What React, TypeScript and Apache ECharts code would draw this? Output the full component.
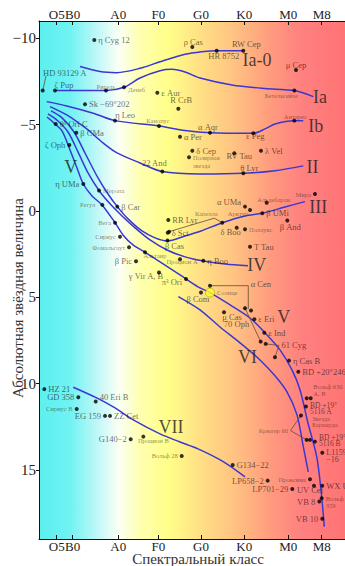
import React, { useEffect, useRef } from 'react';
import * as echarts from 'echarts';

type Star = [string, number, number];
type Pt = [number, number];

// spectral class axis (linear "spectral position": O=0, B=1, A=2, F=3, G=4, K=5, M=6)
const spectralTicks = ['O5', 'B0', 'A0', 'F0', 'G0', 'K0', 'M0', 'M8'];
const spectralTickPos = [0.574, 0.944, 2.0, 2.926, 3.914, 4.917, 5.935, 6.708];
const spectralMin = 0.164;
const spectralMax = 7.248;
const magnitudeTicks = [-10, -5, 0, 5, 10, 15];
const magnitudeMin = -11;
const magnitudeMax = 19;

// stars: [name, spectral position, absolute magnitude]
const supergiantStars: Star[] = [
  ['η Cyg 12', 1.444, -9.9],
  ['HD 93129 A', 0.25, -6.97],
  ['ζ Pup', 0.535, -6.97],
  ['Ригель', 1.715, -6.97],
  ['Денеб', 2.132, -7.16],
  ['ε Aur', 2.903, -6.85],
  ['Sk −69°202', 1.229, -6.18],
  ['η Leo', 1.924, -5.23],
  ['Канопус', 2.942, -4.92],
  ['R CrB', 3.389, -5.92],
  ['ρ Cas', 3.713, -9.5],
  ['HR 8752', 4.278, -9.28],
  ['RW Cep', 4.894, -9.28],
  ['μ Cep', 6.113, -8.16],
  ['Бетельгейзе', 6.074, -6.97],
  ['Антарес', 6.074, -5.23],
  ['α Aqr', 4.123, -4.53],
  ['ε Peg', 5.125, -4.5],
  ['α Per', 3.428, -4.3],
  ['δ Cep', 3.713, -3.49],
  ['Полярная\nзвезда', 3.637, -3.11],
  ['RV Tau', 4.685, -3.34],
  ['λ Vel', 5.303, -3.49],
  ['θ Lyr', 4.894, -2.18],
  ['22 And', 3.019, -2.28],
];

const giantStars: Star[] = [
  ['Мира', 6.553, -0.98],
  ['Альдебаран', 5.435, -0.48],
  ['α UMa', 4.933, -0.25],
  ['Арктур', 5.049, -0.06],
  ['β UMi', 5.333, 0.13],
  ['β And', 5.912, 0.56],
  ['δ Boo', 4.741, 0.97],
  ['Поллукс', 4.933, 1.06],
  ['T Tau', 5.049, 2.07],
  ['RR Lyr', 3.157, 0.52],
  ['δ Sct', 3.144, 1.26],
  ['β Cas', 3.139, 1.71],
  ['η Boo', 3.968, 2.88],
  ['Процион А', 3.428, 2.8],
  ['β Car', 1.977, -0.25],
  ['Меропа', 1.553, -1.18],
];

const mainSequenceStars: Star[] = [
  ['θ¹ Ori C', 0.551, -5.04],
  ['β CMa', 1.028, -4.53],
  ['ζ Oph', 0.866, -3.82],
  ['η UMa', 1.19, -1.56],
  ['Регул', 1.63, -0.35],
  ['Вега', 1.924, 0.68],
  ['Сириус', 2.039, 1.49],
  ['Фомальгаут', 2.248, 2.1],
  ['Альтаир', 2.618, 2.39],
  ['β Pic', 2.41, 2.91],
  ['γ Vir A, B', 2.942, 3.57],
  ['π³ Ori', 3.567, 3.94],
  ['β Com', 3.914, 4.73],
  ['μ Cas', 4.447, 5.87],
  ['ε Eri', 5.148, 6.27],
  ['ε Ind', 5.38, 7.05],
  ['η Cas B', 5.951, 8.67],
  ['BD +20°2465', 6.167, 9.31],
  ['BD +19°\n5116 A', 6.345, 11.33],
  ['Звезда\nБарнарда', 6.438, 13.26],
  ['BD +19°\n5116 B', 6.553, 13.36],
  ['L1159\n−16', 6.722, 14.0],
  ['Проксима', 6.438, 15.54],
  ['WX UMa', 6.722, 15.92],
  ['UV Cet', 6.53, 15.92],
  ['Вольф\n359', 6.708, 16.64],
  ['VB 8', 6.653, 16.83],
  ['VB 10', 6.722, 17.83],
  ['G134−22', 4.648, 14.71],
  ['LP658−2', 5.458, 15.62],
  ['LP701−29', 6.028, 16.11],
];

const whiteDwarfStars: Star[] = [
  ['HZ 21', 0.287, 10.32],
  ['GD 358', 1.074, 10.79],
  ['40 Eri B', 1.477, 11.04],
  ['Сириус B', 1.037, 11.47],
  ['EG 159', 1.692, 11.87],
  ['ZZ Cet', 1.808, 11.87],
  ['G140−2', 2.287, 13.22],
  ['Процион B', 2.579, 13.07],
  ['Вольф 28', 3.468, 14.19],
];

const sun: Star = ['Солнце', 4.123, 4.73];

// multiple systems (unlabelled dots)
const alphaCenStars: Pt[] = [[4.123, 4.33], [5.072, 5.77]];
const oph70Stars: Pt[] = [[4.933, 5.63], [5.296, 7.57]];
const cyg61Stars: Pt[] = [[5.412, 7.7], [5.627, 8.47]];
const capellaStars: Pt[] = [[3.176, 1.2], [4.407, 0.68]];
const kruger60Stars: Pt[] = [[6.229, 11.85], [6.361, 13.26]];
const wolf630Stars: Pt[] = [[6.361, 10.85], [6.454, 10.85]];

// bracket / leader lines
const hd93129Leader: Pt[] = [[0.25, -6.97], [0.326, -7.82]];
const capellaBracket: Pt[] = [[3.176, 1.2], [4.222, 0.42], [4.407, 0.68]];
const alphaCenBracket: Pt[] = [[4.123, 4.33], [5.009, 4.33], [5.009, 5.67]];
const oph70Link: Pt[] = [[4.933, 5.63], [5.296, 7.57]];
const cyg61Bracket: Pt[] = [[5.412, 7.7], [5.72, 7.79], [5.627, 8.47]];
const kruger60Bracket: Pt[] = [[6.229, 11.85], [5.986, 12.72], [6.361, 13.26]];

// label anchors for the systems: [text, spectral, magnitude]
const systemLabels: Star[] = [
  ['Капелла', 4.222, 0.42],
  ['α Cen', 5.009, 4.33],
  ['70 Oph', 4.736, 6.54],
  ['61 Cyg', 5.72, 7.79],
  ['Крюгер 60', 5.986, 12.72],
  ['Вольф 630\nA, B', 6.454, 10.85],
];

// luminosity class curves
const classIa0: Pt[] = [[1.113, -8.36], [1.576, -8.07], [1.963, -8.01], [2.502, -8.26], [2.965, -8.64], [3.544, -9.07], [3.931, -9.22], [4.278, -9.28], [4.894, -9.28]];
const classIa: Pt[] = [[0.535, -6.97], [1.715, -6.97], [2.132, -7.16], [2.502, -7.7], [2.965, -8.12], [3.243, -8.2], [3.544, -8.05], [3.891, -7.7], [4.632, -7.3], [5.396, -7.09], [6.074, -6.97], [6.514, -6.62]];
const classIb: Pt[] = [[0.343, -6.33], [0.806, -6.08], [1.421, -5.66], [1.924, -5.23], [2.942, -4.92], [3.544, -4.66], [4.123, -4.53], [5.125, -4.5], [5.396, -4.75], [5.627, -5.04], [6.074, -5.23], [6.282, -5.23]];
const classII: Pt[] = [[0.419, -6.04], [0.806, -5.56], [1.113, -5.04], [1.299, -4.69], [1.646, -3.94], [1.97, -3.36], [2.502, -2.78], [3.019, -2.28], [3.891, -2.14], [4.894, -2.18], [5.627, -2.33], [6.282, -2.61]];
const classIII: Pt[] = [[0.442, -5.79], [0.697, -5.39], [0.975, -4.57], [1.252, -3.24], [1.53, -1.91], [1.762, -0.98], [1.977, -0.25], [2.225, 0.46], [2.549, 1.16], [2.85, 1.56], [3.127, 1.74], [3.544, 1.45], [3.914, 1.16], [4.407, 0.68], [4.933, 0.29], [5.333, 0.13], [5.859, -0.23], [6.322, -0.54]];
const classIV: Pt[] = [[0.373, -5.62], [0.604, -5.21], [0.836, -4.57], [1.067, -3.42], [1.299, -2.2], [1.553, -1.18], [1.808, -0.41], [2.086, 0.29], [2.387, 0.98], [2.734, 1.68], [3.127, 2.26], [3.544, 2.66], [3.968, 2.9], [4.47, 3.07], [5.002, 3.18]];
const classV: Pt[] = [[0.35, -5.44], [0.535, -5.04], [0.697, -4.63], [0.882, -3.53], [1.044, -2.49], [1.19, -1.56], [1.391, -0.87], [1.623, -0.35], [1.924, 0.68], [2.109, 1.39], [2.34, 1.97], [2.618, 2.39], [2.965, 2.95], [3.428, 3.71], [3.845, 4.4], [4.123, 4.73], [4.586, 5.44], [5.049, 6.2], [5.396, 7.06], [5.743, 8.05], [6.021, 9.21], [6.206, 10.36], [6.391, 12.28], [6.593, 14.23], [6.692, 16.16], [6.769, 18.28]];
const classVI: Pt[] = [[3.389, 4.96], [3.891, 5.73], [4.354, 6.72], [4.817, 7.64], [5.28, 8.63], [5.627, 9.55], [5.905, 10.48], [6.137, 11.81], [6.275, 13.55], [6.398, 15.11]];
const classVII: Pt[] = [[0.958, 10.21], [1.5, 10.83], [1.924, 11.41], [2.347, 12.1], [2.965, 12.91], [3.428, 13.38], [3.845, 13.78], [4.4, 14.48], [4.933, 15.4]];

// class name labels: [text, spectral, magnitude]
const classLabels: Star[] = [
  ['Ia-0', 5.211, -8.74],
  ['Ia', 6.669, -6.62],
  ['Ib', 6.572, -4.92],
  ['II', 6.495, -2.53],
  ['III', 6.63, -0.21],
  ['IV', 5.204, 3.13],
  ['V', 0.9, -2.57],
  ['V', 5.829, 6.16],
  ['VI', 4.991, 8.44],
  ['VII', 3.22, 12.49],
];

// label placement (style): [position, dx, dy, lineHeight?, fontSize?]
type Placement = [string, number, number, number?, number?];
const labelPlacement: Record<string, Placement> = {
  'HD 93129 A': ['top', 22, -9],
  'ζ Pup': ['top', 9, 3],
  'Ригель': ['top', 0, 3],
  'Денеб': ['right', 0, 2],
  'η Leo': ['top', 10, 3],
  'Канопус': ['top', -1, 2],
  'R CrB': ['top', 3, 0],
  'ρ Cas': ['top', 1, 3],
  'HR 8752': ['bottom', 7, -3],
  'RW Cep': ['top', 3, 2],
  'μ Cep': ['top', 0, 3],
  'Бетельгейзе': ['bottom', -13, -3],
  'Антарес': ['top', 1, 3],
  'α Aqr': ['top', -2, 3],
  'ε Peg': ['bottom', 2, -5],
  'Полярная\nзвезда': ['right', 0, 4.5, 8],
  'RV Tau': ['bottom', 5, -6],
  'θ Lyr': ['top', 6, 3],
  '22 And': ['top', -8, 0],
  'Мира': ['left', 0, 0],
  'Альдебаран': ['top', 7, 4],
  'α UMa': ['left', 0, -5],
  'Арктур': ['bottom', -12, -4],
  'β And': ['bottom', 3, -2],
  'δ Boo': ['bottom', -6, -4],
  'β Cas': ['bottom', 7, -3],
  'Процион А': ['bottom', 2, -5],
  'ζ Oph': ['left', 0, 0],
  'η UMa': ['left', 0, 0],
  'Регул': ['left', -3, 0],
  'Вега': ['left', 0, 0],
  'Сириус': ['left', 0, 0],
  'Фомальгаут': ['left', 0, 0],
  'Альтаир': ['bottom', 10, -4],
  'β Pic': ['left', 0, 0],
  'γ Vir A, B': ['bottom', -13, -5],
  'π³ Ori': ['left', 0, 3],
  'β Com': ['bottom', -3, -2],
  'μ Cas': ['bottom', 8, -4],
  'BD +19°\n5116 A': ['right', 0, 2, 6, 7.5],
  'BD +19°\n5116 B': ['right', 0, -1, 6, 7.5],
  'Звезда\nБарнарда': ['right', -2, -18.5, 5.5],
  'L1159\n−16': ['right', 0, 3.5, 7, 8],
  'Проксима': ['left', 0, 0],
  'UV Cet': ['bottom', -4, -4],
  'LP658−2': ['left', 0, 0],
  'LP701−29': ['left', 0, 0],
  'Вольф\n359': ['right', 0, 3.4, 6.7],
  'VB 8': ['left', 0, 0],
  'VB 10': ['left', 0, 0],
  'Вольф 28': ['left', 0, 0],
  'Процион B': ['bottom', 10, -4],
  'G140−2': ['left', 0, 0],
  'EG 159': ['left', 0, 0],
  'Сириус B': ['left', 0, 0],
  '40 Eri B': ['right', 0, -5],
  'GD 358': ['left', 0, 0],
  'Капелла': ['top', -8, 1],
  'α Cen': ['right', 0, -2],
  '70 Oph': ['inside', 0, 0],
  '61 Cyg': ['right', 0, 0],
  'Крюгер 60': ['left', 0, 0],
  'Вольф 630\nA, B': ['right', 0, -8, 7],
};

const SERIF = '"Liberation Serif", "Times New Roman", serif';
const LINE_COLOR = '#3a37d2';
const BRACKET_COLOR = '#5e4e34';

function labelFor(name: string) {
  const pl = labelPlacement[name] || ['right', 0, 0];
  const ru = /[А-Яа-яЁё]/.test(name);
  const fs = pl[4] ?? (ru ? 6.5 : 8.5);
  return {
    show: true,
    position: pl[0],
    offset: [pl[1], pl[2]],
    distance: 2,
    formatter: '{b}',
    fontFamily: SERIF,
    fontSize: fs,
    lineHeight: pl[3] ?? (ru ? 7 : 8.5),
    color: ru ? 'rgba(50,30,10,0.68)' : 'rgba(10,10,10,0.78)',
  };
}

function starItem(s: Star) {
  return { name: s[0], value: [s[1], s[2]], label: labelFor(s[0]) };
}

function curve(name: string, data: Pt[]) {
  return {
    type: 'line', name, data, smooth: 0.3, symbol: 'none', silent: true, z: 2,
    lineStyle: { color: LINE_COLOR, width: 1.5 },
  };
}

function bracket(name: string, data: Pt[]) {
  return {
    type: 'line', name, data, smooth: false, symbol: 'none', silent: true, z: 3,
    lineStyle: { color: BRACKET_COLOR, width: 0.8 },
  };
}

export default function App() {
  const ref = useRef<HTMLDivElement>(null);
  useEffect(() => {
    const chart = echarts.init(ref.current!, undefined, { renderer: 'svg' });
    const xLabelFmt = (v: number) => {
      const i = spectralTickPos.findIndex((t) => Math.abs(t - v) < 1e-6);
      return i >= 0 ? spectralTicks[i] : '';
    };
    const xAxisBase = {
      type: 'value',
      min: spectralMin,
      max: spectralMax,
      splitLine: { show: false },
      axisLine: { show: true, onZero: false, lineStyle: { color: '#111', width: 1 } },
      axisTick: { show: true, inside: true, length: 4, customValues: spectralTickPos, lineStyle: { color: '#111' } },
    };
    const allStars = [...supergiantStars, ...giantStars, ...mainSequenceStars, ...whiteDwarfStars];
    const systemDots = [...alphaCenStars, ...oph70Stars, ...cyg61Stars, ...capellaStars, ...kruger60Stars, ...wolf630Stars];

    const option = {
      animation: false,
      grid: {
        left: 39, right: 0, top: 21, bottom: 27, show: true, borderWidth: 0,
        backgroundColor: new echarts.graphic.LinearGradient(0, 0, 1, 0, [
          { offset: 0, color: '#5cefef' },
          { offset: 0.1, color: '#70f2f2' },
          { offset: 0.2, color: '#c8f8f8' },
          { offset: 0.26, color: '#fbfff5' },
          { offset: 0.33, color: '#ffffb0' },
          { offset: 0.42, color: '#ffff8a' },
          { offset: 0.52, color: '#ffe285' },
          { offset: 0.64, color: '#ffc282' },
          { offset: 0.76, color: '#ff9a7e' },
          { offset: 0.86, color: '#ff8080' },
          { offset: 1, color: '#ff7474' },
        ]),
      },
      xAxis: [
        {
          ...xAxisBase, position: 'bottom',
          axisLabel: { customValues: spectralTickPos, formatter: xLabelFmt, margin: 1, fontFamily: SERIF, fontSize: 13, lineHeight: 13, color: '#222' },
        },
        {
          ...xAxisBase, position: 'top',
          axisLabel: { customValues: spectralTickPos, formatter: xLabelFmt, margin: 0, fontFamily: SERIF, fontSize: 13, color: '#222' },
        },
      ],
      yAxis: {
        type: 'value',
        inverse: true,
        min: magnitudeMin,
        max: magnitudeMax,
        splitLine: { show: false },
        axisLine: { show: true, onZero: false, lineStyle: { color: '#111', width: 1 } },
        axisTick: { show: true, inside: false, length: 3, customValues: magnitudeTicks, lineStyle: { color: '#111' } },
        axisLabel: {
          customValues: magnitudeTicks, margin: 3, fontFamily: SERIF, fontSize: 15, color: '#222',
          formatter: (v: number) => (v < 0 ? '−' + Math.abs(v) : String(v)),
        },
      },
      graphic: [
        {
          type: 'text', x: 18, y: 298, rotation: Math.PI / 2,
          style: { text: 'Абсолютная звёздная величина', x: 0, y: 0, align: 'center', verticalAlign: 'middle', font: '15px "Liberation Serif", serif', fill: '#333' },
        },
        {
          type: 'text', x: 198, y: 558.5,
          style: { text: 'Спектральный класс', x: 0, y: 0, align: 'center', verticalAlign: 'middle', font: '15px "Liberation Serif", serif', lineHeight: 14, fill: '#333' },
        },
      ],
      series: [
        curve('Ia-0', classIa0),
        curve('Ia', classIa),
        curve('Ib', classIb),
        curve('II', classII),
        curve('III', classIII),
        curve('IV', classIV),
        curve('V', classV),
        curve('VI', classVI),
        curve('VII', classVII),
        bracket('hd93129', hd93129Leader),
        bracket('capella', capellaBracket),
        bracket('acen', alphaCenBracket),
        bracket('oph70', oph70Link),
        bracket('cyg61', cyg61Bracket),
        bracket('kruger60', kruger60Bracket),
        {
          type: 'scatter', name: 'stars', symbolSize: 4, z: 5, silent: true,
          itemStyle: { color: '#000' },
          data: allStars.map(starItem),
        },
        {
          type: 'scatter', name: 'systems', symbolSize: 4, z: 5, silent: true,
          itemStyle: { color: '#000' },
          data: systemDots.map((p) => ({ value: p })),
        },
        {
          type: 'scatter', name: 'systemLabels', symbolSize: 1, z: 6, silent: true,
          itemStyle: { color: 'rgba(0,0,0,0)' },
          data: systemLabels.map(starItem),
        },
        {
          type: 'scatter', name: 'sun', symbolSize: 9, z: 6, silent: true,
          itemStyle: { color: '#ffff2a', borderColor: '#b8a000', borderWidth: 0.8 },
          data: [starItem(sun)],
        },
        {
          type: 'scatter', name: 'classes', symbolSize: 1, z: 6, silent: true,
          itemStyle: { color: 'rgba(0,0,0,0)' },
          label: { show: true, position: 'inside', formatter: '{b}', fontFamily: SERIF, fontSize: 18, color: '#1c1c1c' },
          data: classLabels.map((c) => ({ name: c[0], value: [c[1], c[2]] })),
        },
      ],
    };
    chart.setOption(option as any);
    return () => chart.dispose();
  }, []);
  return <div ref={ref} style={{ position: 'absolute', left: 0, top: 0, width: 345, height: 566 }} />;
}
